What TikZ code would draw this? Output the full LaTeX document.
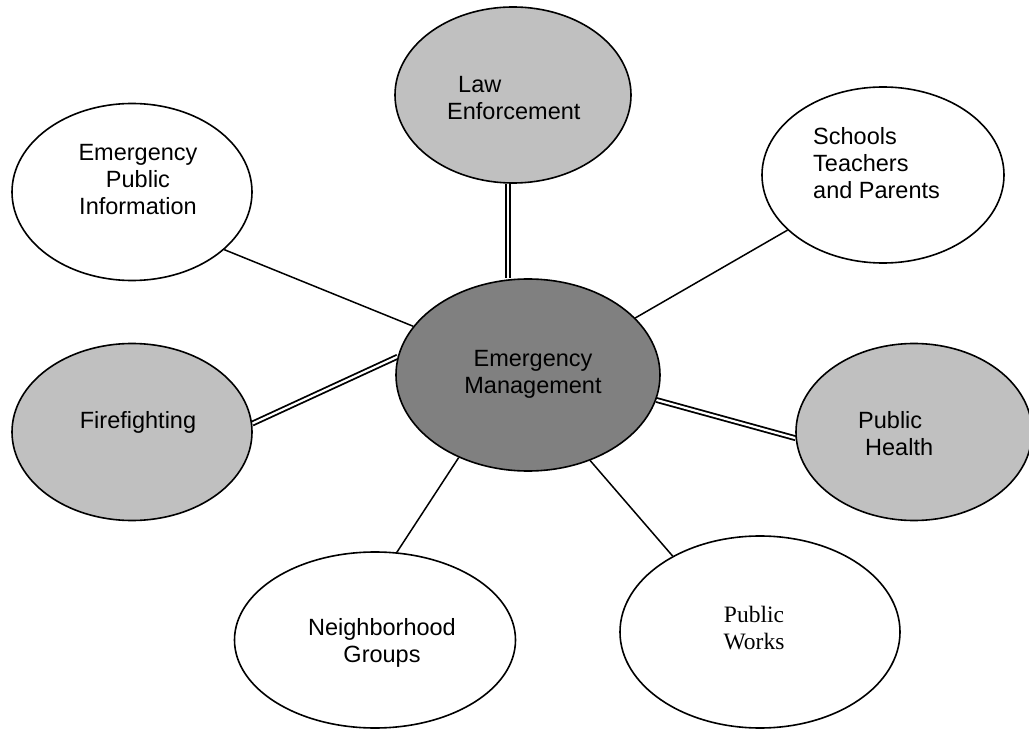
\documentclass[tikz,border=0pt]{standalone}
\usepackage{fontspec}
\setmainfont{Liberation Sans}
\newfontfamily\timesfont{Liberation Serif}
\usetikzlibrary{shapes.geometric,backgrounds}
\definecolor{hubgray}{HTML}{808080}
\definecolor{lightfill}{HTML}{C0C0C0}
\begin{document}
\begin{tikzpicture}[x=1pt,y=-1pt,
  bubble/.style={ellipse, draw=black, line width=1.6pt, inner sep=0pt},
  txt/.style={font=\fontsize{23.5}{27}\selectfont, inner sep=0pt, align=center},
  link/.style={draw=black, line width=1.5pt},
  dbl/.style={draw=black, double=white, double distance=2.2pt, line width=1.8pt}]
\clip (0,0) rectangle (1029,730);
% ellipses
\node[bubble, fill=hubgray, minimum width=264pt, minimum height=192pt] (em) at (528,375) {};
\node[bubble, fill=lightfill, minimum width=236pt, minimum height=176pt] (law) at (513,95) {};
\node[bubble, fill=white, minimum width=240pt, minimum height=177pt] (epi) at (132,192) {};
\node[bubble, fill=white, minimum width=242pt, minimum height=176pt] (sch) at (883,175) {};
\node[bubble, fill=lightfill, minimum width=240pt, minimum height=177pt] (fire) at (132,432) {};
\node[bubble, fill=lightfill, minimum width=236pt, minimum height=177pt] (ph) at (914,432) {};
\node[bubble, fill=white, minimum width=281pt, minimum height=176pt] (nb) at (375,640) {};
\node[bubble, fill=white, minimum width=280pt, minimum height=192pt] (pw) at (760,632) {};
% texts
\node[txt] (emt) at (533,374) {Emergency\\Management};
\node[txt, align=left, anchor=west] (lawt) at (447,98) {\hspace*{11pt}Law\\Enforcement};
\node[txt] (epit) at (138,180) {Emergency\\Public\hspace*{6pt}\\Information};
\node[txt, align=left, anchor=west] (scht) at (813,163) {Schools\\Teachers\\and Parents};
\node[txt] (firet) at (138,422) {Firefighting};
\node[txt, align=left, anchor=west] (pht) at (858,434) {Public\\\hspace*{7pt}Health};
\node[txt] (nbt) at (382,643) {Neighborhood\\Groups};
\node[txt, font=\timesfont\fontsize{23.5}{27}\selectfont] (pwt) at (754,628) {Public\\Works};
% connectors
\begin{scope}[on background layer]
\fill[white] (0,0) rectangle (1029,730);
\draw[dbl] (law.-93) -- (law.-93 |- em.north);
\draw[link] (epi.-32.5) -- (em.157);
\draw[link] (sch.210.7) -- (em.28);
\draw[dbl] (fire.4.3) -- (em.172);
\draw[dbl] (ph.183) -- (em.-11);
\draw[link] (nb.76.6) -- (em.-130);
\draw[link] (pw.139) -- (em.-54);
\end{scope}
\end{tikzpicture}
\end{document}
